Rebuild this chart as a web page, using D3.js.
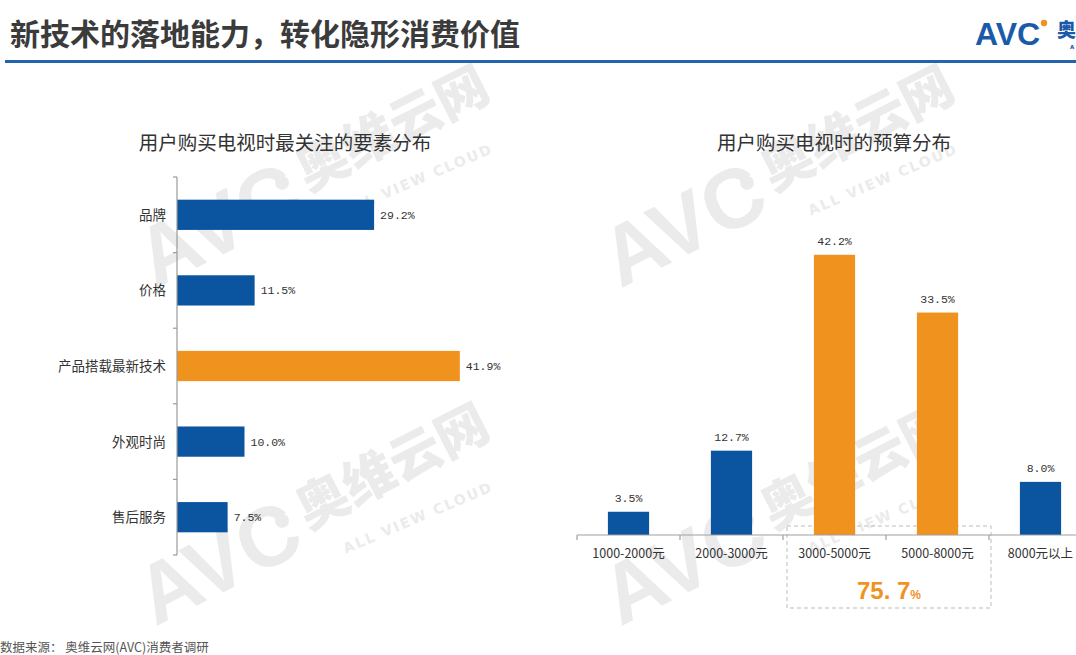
<!DOCTYPE html>
<html><head><meta charset="utf-8">
<script src="https://cdn.jsdelivr.net/npm/d3@7"></script>
<style>
html,body{margin:0;padding:0;background:#fff;overflow:hidden;}
svg{display:block;}
</style></head>
<body>
<svg id="chart" width="1076" height="655"></svg>
<script>
// ---------- data ----------
const pageTitle = "新技术的落地能力，转化隐形消费价值";
const leftTitle = "用户购买电视时最关注的要素分布";
const factorCategories = ["品牌", "价格", "产品搭载最新技术", "外观时尚", "售后服务"];
const factorValues = [29.2, 11.5, 41.9, 10.0, 7.5];
const factorHighlight = ["产品搭载最新技术"];

const rightTitle = "用户购买电视时的预算分布";
const budgetCategories = ["1000-2000元", "2000-3000元", "3000-5000元", "5000-8000元", "8000元以上"];
const budgetValues = [3.5, 12.7, 42.2, 33.5, 8.0];
const budgetHighlight = ["3000-5000元", "5000-8000元"];
const highlightTotal = "75.7";

const sourceNote = "数据来源： 奥维云网(AVC)消费者调研";

// ---------- style ----------
const BLUE = "#0b54a0", ORANGE = "#f0921e";
const CJK = "'Noto Sans CJK SC','Noto Sans',sans-serif";
const MONO = "'Liberation Mono','DejaVu Sans Mono',monospace";
const fmt = v => v.toFixed(1) + "%";

const svg = d3.select("#chart");

// ---------- watermarks ----------
function watermark(ox, oy) {
  const g = svg.append("g").attr("transform", `translate(${ox},${oy}) rotate(-27)`)
    .attr("fill", "#ebebeb");
  g.append("text").attr("x", -180).attr("y", 17)
    .attr("font-family", "'Liberation Sans',Arial,sans-serif")
    .attr("font-weight", "bold")
    .attr("font-size", 84).text("AVC");
  g.append("circle").attr("cx", -19).attr("cy", -20).attr("r", 7);
  g.append("text").attr("x", 0).attr("y", 0)
    .attr("font-family", CJK).attr("font-weight", "900")
    .attr("font-size", 52).text("奥维云网");
  g.append("text").attr("x", 23).attr("y", 38).attr("transform", "rotate(4,23,38)")
    .attr("font-family", "'DejaVu Sans',sans-serif").attr("font-weight", "bold")
    .attr("font-size", 14).attr("letter-spacing", 2).text("ALL VIEW CLOUD");
}
watermark(308, 192);
watermark(308, 530);
watermark(773, 192);
watermark(773, 530);

// ---------- header ----------
svg.append("text").attr("x", 10).attr("y", 45)
  .attr("font-family", CJK).attr("font-weight", "bold").attr("font-size", 30)
  .attr("fill", "#3b3b3b").text(pageTitle);
svg.append("rect").attr("x", 5).attr("y", 60).attr("width", 1071).attr("height", 3)
  .attr("fill", "#2563ad");

// logo
const logo = svg.append("g");
logo.append("text").attr("x", 975).attr("y", 45)
  .attr("font-family", "'Liberation Sans',Arial,sans-serif")
  .attr("font-weight", "bold").attr("font-size", 32)
  .attr("fill", "#1a5aa8").text("AVC");
logo.append("circle").attr("cx", 1044).attr("cy", 23).attr("r", 3.2).attr("fill", ORANGE);
logo.append("text").attr("x", 1057).attr("y", 37)
  .attr("font-family", CJK).attr("font-weight", "900").attr("font-size", 19)
  .attr("fill", "#1a5aa8").text("奥");
logo.append("text").attr("x", 1070).attr("y", 49)
  .attr("font-family", "'DejaVu Sans',sans-serif").attr("font-weight", "bold").attr("font-size", 5.5)
  .attr("fill", "#1a5aa8").text("A");

// ---------- left chart ----------
svg.append("text").attr("x", 285).attr("y", 150).attr("text-anchor", "middle")
  .attr("font-family", CJK).attr("font-size", 19.5).attr("fill", "#333").text(leftTitle);

const yL = d3.scaleBand().domain(factorCategories).range([177, 555])
  .paddingInner(0.6).paddingOuter(0.3);
const xL = d3.scaleLinear().domain([0, 45]).range([177, 177 + 45 * 6.75]);

const gl = svg.append("g");
gl.selectAll("rect.bar").data(factorCategories).join("rect")
  .attr("x", xL(0)).attr("y", d => yL(d))
  .attr("width", (d, i) => xL(factorValues[i]) - xL(0))
  .attr("height", yL.bandwidth())
  .attr("fill", d => factorHighlight.includes(d) ? ORANGE : BLUE);
gl.selectAll("text.val").data(factorCategories).join("text")
  .attr("x", (d, i) => xL(factorValues[i]) + 6)
  .attr("y", d => yL(d) + yL.bandwidth() / 2 + 4)
  .attr("font-family", MONO).attr("font-size", 11.5).attr("fill", "#333")
  .text((d, i) => fmt(factorValues[i]));
gl.selectAll("text.cat").data(factorCategories).join("text")
  .attr("x", 166).attr("y", d => yL(d) + yL.bandwidth() / 2 + 5)
  .attr("text-anchor", "end")
  .attr("font-family", CJK).attr("font-size", 13.5).attr("fill", "#333")
  .text(d => d);
const stepL = yL.step();
const leftEdges = d3.range(factorCategories.length + 1).map(i => yL.range()[0] + i * stepL);
gl.append("line").attr("x1", xL(0)).attr("x2", xL(0))
  .attr("y1", leftEdges[0]).attr("y2", leftEdges[leftEdges.length - 1])
  .attr("stroke", "#9a9a9a").attr("stroke-width", 1.2);
gl.selectAll("line.tick").data(leftEdges).join("line")
  .attr("x1", xL(0) - 4).attr("x2", xL(0)).attr("y1", d => d).attr("y2", d => d)
  .attr("stroke", "#9a9a9a").attr("stroke-width", 1.2);

// ---------- right chart ----------
svg.append("text").attr("x", 834).attr("y", 150).attr("text-anchor", "middle")
  .attr("font-family", CJK).attr("font-size", 19.5).attr("fill", "#333").text(rightTitle);

const xR = d3.scaleBand().domain(budgetCategories).range([577, 1092])
  .paddingInner(0.6).paddingOuter(0.3);
const yR = d3.scaleLinear().domain([0, 45]).range([535, 535 - 45 * 6.64]);

const gr = svg.append("g");
const stepR = xR.step();
const hx0 = xR(budgetHighlight[0]) - stepR * 0.3 + 4;
const hx1 = xR(budgetHighlight[budgetHighlight.length - 1]) + xR.bandwidth() + stepR * 0.3 + 2;
gr.append("rect").attr("x", hx0).attr("y", 526).attr("width", hx1 - hx0).attr("height", 82)
  .attr("fill", "none").attr("stroke", "#bdbdbd").attr("stroke-width", 1)
  .attr("stroke-dasharray", "4,3");

gr.selectAll("rect.bar").data(budgetCategories).join("rect")
  .attr("x", d => xR(d)).attr("width", xR.bandwidth())
  .attr("y", (d, i) => yR(budgetValues[i]))
  .attr("height", (d, i) => yR(0) - yR(budgetValues[i]))
  .attr("fill", d => budgetHighlight.includes(d) ? ORANGE : BLUE);
gr.selectAll("text.val").data(budgetCategories).join("text")
  .attr("x", d => xR(d) + xR.bandwidth() / 2)
  .attr("y", (d, i) => yR(budgetValues[i]) - 10)
  .attr("text-anchor", "middle")
  .attr("font-family", MONO).attr("font-size", 11.5).attr("fill", "#333")
  .text((d, i) => fmt(budgetValues[i]));
gr.selectAll("text.cat").data(budgetCategories).join("text")
  .attr("x", d => xR(d) + xR.bandwidth() / 2).attr("y", 558)
  .attr("text-anchor", "middle")
  .attr("font-family", CJK).attr("font-size", 12.5).attr("fill", "#333")
  .text(d => d);
const rightEdges = d3.range(budgetCategories.length + 1).map(i => xR.range()[0] + i * stepR);
gr.append("line").attr("x1", 577).attr("x2", 1076).attr("y1", yR(0)).attr("y2", yR(0))
  .attr("stroke", "#a0a0a0").attr("stroke-width", 1.2);
gr.selectAll("line.tick").data(rightEdges.filter(d => d <= 1076)).join("line")
  .attr("x1", d => d).attr("x2", d => d).attr("y1", yR(0)).attr("y2", yR(0) + 5)
  .attr("stroke", "#a0a0a0").attr("stroke-width", 1.2);

const tot = gr.append("text").attr("x", (hx0 + hx1) / 2).attr("y", 599)
  .attr("text-anchor", "middle").attr("fill", ORANGE)
  .attr("font-family", "'Liberation Sans',Arial,sans-serif").attr("font-weight", "bold");
tot.append("tspan").attr("font-size", 24).text(highlightTotal.replace(".", ". "));
tot.append("tspan").attr("font-size", 12).text("%");

// ---------- footer ----------
svg.append("text").attr("x", 0).attr("y", 652)
  .attr("font-family", CJK).attr("font-size", 12.5).attr("fill", "#555").text(sourceNote);
</script>
</body></html>
